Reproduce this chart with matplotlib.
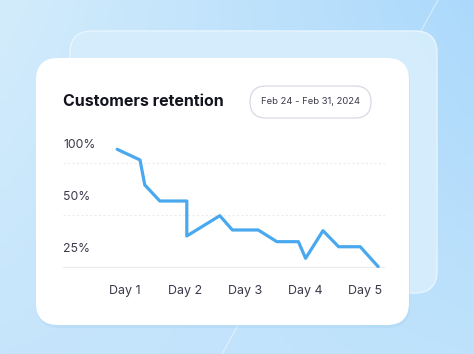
import matplotlib
matplotlib.use("Agg")
import matplotlib.pyplot as plt
import numpy as np
from matplotlib.patches import FancyBboxPatch
from matplotlib.colors import to_rgb
from matplotlib.transforms import offset_copy

# data (x in days, y in % of chart height)
days = [0.87, 1.25, 1.33, 1.58, 2.03, 2.03, 2.58, 2.79, 3.22, 3.53, 3.89, 4.01, 4.30, 4.56, 4.92, 5.22]
retention = [113.5, 103.2, 79.0, 63.5, 63.5, 29.7, 49.3, 35.5, 35.5, 24.2, 24.2, 8.1, 34.8, 19.3, 19.3, 0.0]
day_ticks = [1, 2, 3, 4, 5]
day_labels = ["Day 1", "Day 2", "Day 3", "Day 4", "Day 5"]
grid_levels = [100, 50, 0]
y_labels = ["100%", "50%", "25%"]
title = "Customers retention"
date_range = "Feb 24 - Feb 31, 2024"

W, H = 474, 354
fig = plt.figure(figsize=(W / 100, H / 100), dpi=100)

# background layer in pixel coords
bg = fig.add_axes([0, 0, 1, 1])
bg.set_xlim(0, W)
bg.set_ylim(H, 0)
bg.axis("off")

# soft blue gradient
tl, tr = np.array(to_rgb("#d3ecfc")), np.array(to_rgb("#acd9fc"))
bl, br = np.array(to_rgb("#c6e5fb")), np.array(to_rgb("#bee2fc"))
u = np.linspace(0, 1, 60)[None, :, None]
v = np.linspace(0, 1, 60)[:, None, None]
img = (1 - v) * ((1 - u) * tl + u * tr) + v * ((1 - u) * bl + u * br)
bg.imshow(img, extent=[0, W, H, 0], aspect="auto", interpolation="bicubic", zorder=0)

# faint diagonal light streaks
bg.plot([438, 421], [0, 31], color="white", alpha=0.5, lw=0.8, zorder=1)
bg.plot([238, 222], [325, 354], color="white", alpha=0.5, lw=0.8, zorder=1)

# back glass card
back = FancyBboxPatch((70, 31), 367, 262, boxstyle="round,pad=0,rounding_size=22",
                      facecolor="#d6edfd", edgecolor="#eaf6ff", lw=1.0, alpha=0.95, zorder=2)
bg.add_patch(back)

# card shadow + white card
shadow = FancyBboxPatch((37, 61), 373, 267, boxstyle="round,pad=0,rounding_size=22",
                        facecolor="#9ccbee", edgecolor="none", alpha=0.25, zorder=3)
bg.add_patch(shadow)
card = FancyBboxPatch((36, 58), 373, 267, boxstyle="round,pad=0,rounding_size=22",
                      facecolor="white", edgecolor="none", zorder=4)
bg.add_patch(card)

bg.text(63, 102, title, fontsize=11.5, fontweight="bold", family="Inter",
        color="#14141f", ha="left", va="center", zorder=5)

pill = FancyBboxPatch((250, 86), 121, 32, boxstyle="round,pad=0,rounding_size=16",
                      facecolor="white", edgecolor="#d9d9e6", lw=0.9, zorder=5)
bg.add_patch(pill)
bg.text(310.5, 102, date_range, fontsize=6.8, family="Inter", color="#3c3c4c",
        ha="center", va="center", zorder=6)

# chart axes: px 63..385 horizontally, 140..268 vertically
ax = fig.add_axes([63 / W, 1 - 268 / H, (385 - 63) / W, (268 - 140) / H])
ax.patch.set_alpha(0)
ax.set_xlim(1 - 62 / 60, 1 + 260 / 60)
ax.set_ylim(-1.26, 122.5)
for s in ax.spines.values():
    s.set_visible(False)

for lvl in grid_levels[:-1]:
    ax.axhline(lvl, color="#ececf0", lw=0.8, ls=(0, (2, 2)), zorder=1)
ax.axhline(grid_levels[-1], color="#eaeaef", lw=0.9, zorder=1)

ax.plot(days, retention, color="#4aa9ee", lw=2.3, solid_joinstyle="round",
        solid_capstyle="round", zorder=3)

lab_tr = offset_copy(ax.transData, fig=fig, x=0, y=13, units="points")
for lvl, lab in zip(grid_levels, y_labels):
    ax.text(ax.get_xlim()[0], lvl, lab, transform=lab_tr, fontsize=8.8, family="Inter",
            color="#3a3a4a", ha="left", va="center")

ax.set_yticks([])
ax.set_xticks(day_ticks)
ax.set_xticklabels(day_labels, fontsize=9, family="Inter", color="#3a3a4a")
ax.tick_params(axis="x", length=0, pad=12)

fig.savefig("out.png", dpi=100)
